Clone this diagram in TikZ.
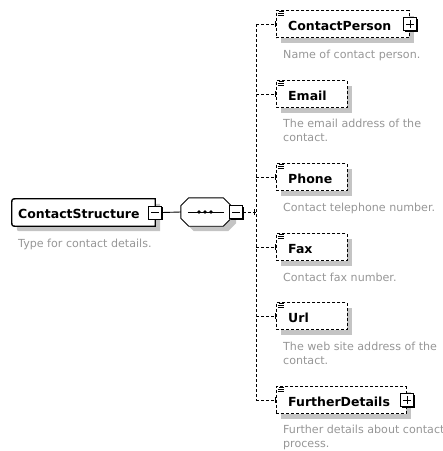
\documentclass[tikz,border=0pt]{standalone}
\usepackage{fontspec}
\newfontfamily\uifont{DejaVu Sans}
\usetikzlibrary{calc,shadows}
\definecolor{descgray}{RGB}{150,150,150}
\definecolor{shadowgray}{RGB}{196,196,196}

\tikzset{
  dashline/.style={draw=black, line width=0.9pt, dash pattern=on 3pt off 2pt},
  solidline/.style={draw=black, line width=0.9pt},
  tickline/.style={draw=black, line width=0.9pt},
  elembox/.style={dashline, fill=white, inner sep=0pt, minimum height=27pt, anchor=west,
    drop shadow={shadow xshift=5pt, shadow yshift=-5pt, fill=shadowgray, draw=none, opacity=1}},
  titletext/.style={font=\uifont\bfseries\fontsize{12.5}{15}\selectfont, inner sep=0pt, anchor=base west},
  desctext/.style={font=\uifont\fontsize{11.1}{14}\selectfont, text=descgray, inner sep=0pt,
    anchor=base west, align=left},
  expander/.style={draw=black, fill=white, line width=0.8pt, minimum size=13pt, inner sep=0pt,
    drop shadow={shadow xshift=1.4pt, shadow yshift=-1.4pt, fill=black, draw=none, opacity=1}},
  minusbox/.style={expander, path picture={
    \draw[line width=0.8pt] ([xshift=-4pt]path picture bounding box.center) -- ([xshift=4pt]path picture bounding box.center);}},
  plusbox/.style={expander, path picture={
    \draw[line width=0.8pt] ([xshift=-4pt]path picture bounding box.center) -- ([xshift=4pt]path picture bounding box.center)
      ([yshift=-4pt]path picture bounding box.center) -- ([yshift=4pt]path picture bounding box.center);}},
  iconline/.style={draw=black, line width=0.7pt},
}

% irregular octagon of the sequence compositor
\newcommand\seqoutline{($(seq.north west)+(8,0)$) -- ($(seq.north east)+(-8,0)$) -- ($(seq.north east)+(0,8)$)
  -- ($(seq.south east)+(0,-8)$) -- ($(seq.south east)+(-8,0)$) -- ($(seq.south west)+(8,0)$)
  -- ($(seq.south west)+(0,-8)$) -- ($(seq.north west)+(0,8)$) -- cycle}

% small "documentation" glyph in the top-left corner of an element box
\newcommand\docicon[1]{%
  \draw[iconline] ($(#1.north west)+(3,1.5)$) -- ++(5,0)
                  ($(#1.north west)+(2,3.5)$) -- ++(6,0)
                  ($(#1.north west)+(2,5.5)$) -- ++(6,0);}

\begin{document}
\begin{tikzpicture}[x=1pt,y=-1pt]
\useasboundingbox (0,0) rectangle (443,451);

% ---------- root element ----------
\node[draw=none, minimum width=143pt, minimum height=27pt, inner sep=0pt] (cs) at (83.5,212.5) {};
\begin{scope}[transform canvas={xshift=5pt,yshift=-5pt}]
  \fill[shadowgray] (cs.north east) -- ($(cs.north west)+(5,0)$) .. controls (cs.north west) .. ($(cs.north west)+(0,5)$)
    -- ($(cs.south west)+(0,-5)$) .. controls (cs.south west) .. ($(cs.south west)+(5,0)$) -- (cs.south east) -- cycle;
\end{scope}
\filldraw[fill=white, draw=black, line width=1.3pt] (cs.north east) -- ($(cs.north west)+(5,0)$) .. controls (cs.north west) .. ($(cs.north west)+(0,5)$)
  -- ($(cs.south west)+(0,-5)$) .. controls (cs.south west) .. ($(cs.south west)+(5,0)$) -- (cs.south east) -- cycle;
\node[titletext] (cs-t) at (18,218) {ContactStructure};
\node[desctext] (cs-d) at (18,247) {Type for contact details.};
\node[minusbox] (cs-x) at (cs.east) {};

% ---------- sequence compositor ----------
\node[draw=none, minimum width=50pt, minimum height=28pt, inner sep=0pt] (seq) at (206,212) {};
\begin{scope}[transform canvas={xshift=5pt,yshift=-5pt}]
  \fill[shadowgray] \seqoutline;
\end{scope}
\filldraw[fill=white, draw=black, line width=0.9pt] \seqoutline;
\coordinate (seq-l) at ($(seq.west)+(7,0)$);
\coordinate (seq-r) at ($(seq.east)+(-7,0)$);
\draw[solidline] (seq-l) -- (seq-r);
\foreach \dx in {-7,-1,5} \fill ($(seq.center)+(\dx,0)$) circle (1.8pt);
\node[minusbox] (seq-x) at ($(seq.east)+(5,0)$) {};

\draw[solidline] (cs-x.east) -- (seq.west);

% ---------- child elements ----------
\coordinate (bus-top) at (256,24);
\coordinate (bus-bot) at (256,400);

\node[elembox, minimum width=133pt] (cp) at (276,24) {};
\node[elembox, minimum width=71pt]  (em) at (276,94) {};
\node[elembox, minimum width=71pt]  (ph) at (276,177) {};
\node[elembox, minimum width=71pt]  (fx) at (276,247) {};
\node[elembox, minimum width=71pt]  (ur) at (276,316) {};
\node[elembox, minimum width=130pt] (fd) at (276,400) {};

\foreach \n in {cp,em,ph,fx,ur,fd} {
  \docicon{\n}
  \draw[dashline] (\n.west -| bus-top) -- (\n.west);
  \draw[tickline] ($(\n.west)+(-1,-3)$) -- ($(\n.west)+(-1,3)$);
}

\node[plusbox] (cp-x) at (cp.east) {};
\node[plusbox] (fd-x) at (fd.east) {};

\draw[dashline] (bus-top) -- (bus-bot);
\draw[dashline] (seq-x.east) -- (seq-x.east -| bus-top);
\draw[tickline] ($(seq-x.east -| bus-top)+(-2,-3)$) -- ($(seq-x.east -| bus-top)+(-2,3)$);

\node[titletext] (cp-t) at (288,30)  {ContactPerson};
\node[titletext] (em-t) at (288,100) {Email};
\node[titletext] (ph-t) at (288,183) {Phone};
\node[titletext] (fx-t) at (288,253) {Fax};
\node[titletext] (ur-t) at (288,322) {Url};
\node[titletext] (fd-t) at (288,406) {FurtherDetails};

% multi-line notes sit on the baseline of their last line
\node[desctext] (cp-d) at (283,58)  {Name of contact person.};
\node[desctext] (em-d) at (283,141) {The email address of the\\contact.};
\node[desctext] (ph-d) at (283,211) {Contact telephone number.};
\node[desctext] (fx-d) at (283,281) {Contact fax number.};
\node[desctext] (ur-d) at (283,364) {The web site address of the\\contact.};
\node[desctext] (fd-d) at (283,447) {Further details about contact\\process.};
\end{tikzpicture}
\end{document}
